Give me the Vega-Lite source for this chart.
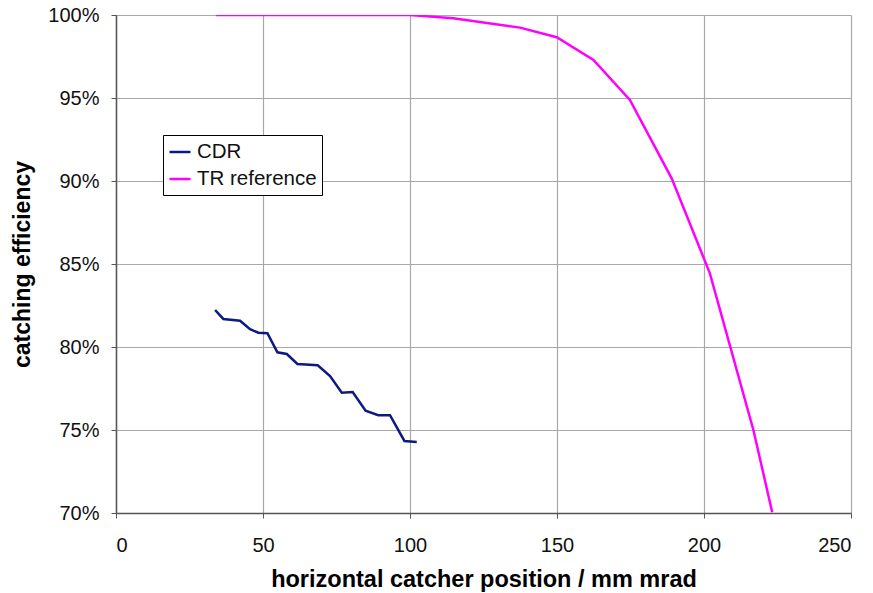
{
  "$schema": "https://vega.github.io/schema/vega-lite/v6.json",
  "autosize": {"type": "none"},
  "padding": {"left": 116, "top": 15, "right": 22, "bottom": 80},
  "width": 735,
  "height": 498,
  "background": "white",
  "config": {
    "view": {"stroke": null},
    "font": "Liberation Sans",
    "axis": {"labelFont": "Liberation Sans", "titleFont": "Liberation Sans"},
    "legend": {"labelFont": "Liberation Sans"}
  },
  "data": {
    "values": [
      {"series": "CDR", "x": 33.7, "y": 0.8223},
      {"series": "CDR", "x": 36.5, "y": 0.8169},
      {"series": "CDR", "x": 42.2, "y": 0.8158},
      {"series": "CDR", "x": 45.6, "y": 0.8107},
      {"series": "CDR", "x": 48.4, "y": 0.8086},
      {"series": "CDR", "x": 51.5, "y": 0.8083},
      {"series": "CDR", "x": 54.9, "y": 0.7968},
      {"series": "CDR", "x": 58.1, "y": 0.7958},
      {"series": "CDR", "x": 61.7, "y": 0.7898},
      {"series": "CDR", "x": 68.6, "y": 0.789},
      {"series": "CDR", "x": 72.8, "y": 0.7825},
      {"series": "CDR", "x": 76.8, "y": 0.7725},
      {"series": "CDR", "x": 80.5, "y": 0.7729},
      {"series": "CDR", "x": 84.9, "y": 0.7616},
      {"series": "CDR", "x": 89.2, "y": 0.7589},
      {"series": "CDR", "x": 93.2, "y": 0.7589},
      {"series": "CDR", "x": 98.1, "y": 0.7434},
      {"series": "CDR", "x": 102.3, "y": 0.7428},
      {"series": "TR reference", "x": 34, "y": 1.0},
      {"series": "TR reference", "x": 100, "y": 1.0},
      {"series": "TR reference", "x": 114.7, "y": 0.998},
      {"series": "TR reference", "x": 137.4, "y": 0.9924},
      {"series": "TR reference", "x": 149.9, "y": 0.9866},
      {"series": "TR reference", "x": 162.4, "y": 0.9729},
      {"series": "TR reference", "x": 174.8, "y": 0.9488},
      {"series": "TR reference", "x": 189.0, "y": 0.9016},
      {"series": "TR reference", "x": 202.0, "y": 0.8444},
      {"series": "TR reference", "x": 216.8, "y": 0.75},
      {"series": "TR reference", "x": 223.2, "y": 0.7004}
    ]
  },
  "mark": {"type": "line", "strokeWidth": 2.5, "clip": true},
  "encoding": {
    "x": {
      "field": "x", "type": "quantitative",
      "scale": {"domain": [0, 250], "nice": false, "zero": false},
      "axis": {
        "title": "horizontal catcher position / mm mrad",
        "values": [0, 50, 100, 150, 200, 250],
        "titleFontSize": 23.5, "titleFontWeight": "bold", "titleColor": "black",
        "titlePadding": 12,
        "labelFontSize": 20, "labelColor": "#111", "labelPadding": 17,
        "domainColor": "#555", "domainWidth": 1.5,
        "tickColor": "#555", "tickSize": 5,
        "gridColor": "#a8a8a8", "gridWidth": 1.2
      }
    },
    "y": {
      "field": "y", "type": "quantitative",
      "scale": {"domain": [0.7, 1.0], "nice": false, "zero": false},
      "axis": {
        "title": "catching efficiency",
        "format": ".0%",
        "values": [0.7, 0.75, 0.8, 0.85, 0.9, 0.95, 1.0],
        "titleFontSize": 23, "titleFontWeight": "bold", "titleColor": "black",
        "titlePadding": 13,
        "labelFontSize": 20, "labelColor": "#111", "labelPadding": 12,
        "domainColor": "#555", "domainWidth": 1.5,
        "tickColor": "#555", "tickSize": 5,
        "gridColor": "#a8a8a8", "gridWidth": 1.2
      }
    },
    "color": {
      "field": "series", "type": "nominal",
      "scale": {"domain": ["CDR", "TR reference"], "range": ["#0c1a80", "#ff00ff"]},
      "legend": {
        "title": null,
        "orient": "none",
        "legendX": 47,
        "legendY": 120,
        "symbolType": "stroke",
        "symbolStrokeWidth": 2.5,
        "symbolSize": 441,
        "labelFontSize": 20.5,
        "labelColor": "#111",
        "labelOffset": 5,
        "fillColor": "white",
        "strokeColor": "black",
        "padding": 5,
        "rowPadding": 4,
        "cornerRadius": 0
      }
    }
  }
}
